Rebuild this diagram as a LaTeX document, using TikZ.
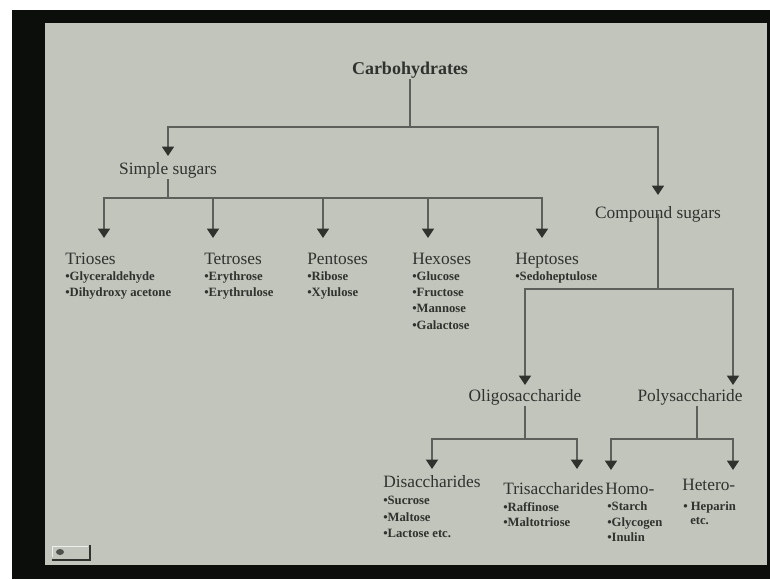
\documentclass[tikz,border=0pt]{standalone}
\usepackage{fontspec}
\setmainfont{Liberation Serif}
\usetikzlibrary{arrows.meta}
\definecolor{slidebg}{RGB}{193,197,187}
\definecolor{ink}{RGB}{48,50,46}
\definecolor{wirec}{RGB}{92,95,90}
\definecolor{framec}{RGB}{12,14,12}
\begin{document}
\begin{tikzpicture}[x=0.75pt,y=-0.75pt,
  wire/.style={draw=wirec,line width=1.1pt},
  arr/.style={wire,-{Triangle[width=9pt,length=7pt,color=ink]}},
  head/.style={font=\fontsize{13}{15}\selectfont,text=ink,inner sep=1pt},
  lhead/.style={head,anchor=base west,inner sep=0pt},
  itm/.style={font=\fontsize{9.5}{11}\selectfont\bfseries,text=ink,anchor=base west,inner sep=0pt}]
\useasboundingbox (0,0) rectangle (770,579);
\fill[white] (0,0) rectangle (770,579);
\fill[framec] (12,10) rectangle (770,579);
\fill[slidebg] (45,23) rectangle (767,565);
% icon bottom left
\draw[ink,line width=1.4pt] (52,560) -- (90,560) -- (90,545);
\fill[ink!85] (60,552) ellipse (4 and 3);
\draw[white!70!slidebg,line width=0.6pt] (52,557) -- (52,546) -- (88,546);

% nodes
\node[head,font=\fontsize{13.5}{15}\selectfont\bfseries,anchor=base] (carb) at (410,74) {Carbohydrates};
\node[head,anchor=base] (simple) at (168,174) {Simple sugars};
\node[head,anchor=base] (compound) at (658,218) {Compound sugars};

\node[lhead] (tri) at (65,264) {Trioses};
\node[itm] (tri1) at (65,280) {•Glyceraldehyde};
\node[itm] (tri2) at (65,296) {•Dihydroxy acetone};

\node[lhead] (tet) at (204,264) {Tetroses};
\node[itm] (tet1) at (204,280) {•Erythrose};
\node[itm] (tet2) at (204,296) {•Erythrulose};

\node[lhead] (pen) at (307,264) {Pentoses};
\node[itm] (pen1) at (307,280) {•Ribose};
\node[itm] (pen2) at (307,296) {•Xylulose};

\node[lhead] (hex) at (412,264) {Hexoses};
\node[itm] (hex1) at (412,280) {•Glucose};
\node[itm] (hex2) at (412,296) {•Fructose};
\node[itm] (hex3) at (412,312) {•Mannose};
\node[itm] (hex4) at (412,329) {•Galactose};

\node[lhead] (hep) at (515,264) {Heptoses};
\node[itm] (hep1) at (515,280) {•Sedoheptulose};

\node[head,anchor=base] (oligo) at (525,401) {Oligosaccharide};
\node[head,anchor=base] (poly) at (690,401) {Polysaccharide};

\node[lhead] (disa) at (383,487) {Disaccharides};
\node[itm] (disa1) at (383,504) {•Sucrose};
\node[itm] (disa2) at (383,521) {•Maltose};
\node[itm] (disa3) at (383,537) {•Lactose etc.};

\node[lhead] (tris) at (503,494) {Trisaccharides};
\node[itm] (tris1) at (503,511) {•Raffinose};
\node[itm] (tris2) at (503,526) {•Maltotriose};

\node[lhead] (homo) at (605,494) {Homo-};
\node[itm] (homo1) at (607,510) {•Starch};
\node[itm] (homo2) at (607,526) {•Glycogen};
\node[itm] (homo3) at (607,541) {•Inulin};

\node[lhead] (het) at (682,490) {Hetero-};
\node[itm] (het1) at (683,510) {• Heparin};
\node[itm] (het2) at (690,524) {etc.};

% junctions and arrow tips
\coordinate (j0) at (410,127);
\coordinate (simple-in) at (168,156);
\coordinate (compound-in) at (658,195);
\coordinate (j1) at (168,198);
\coordinate (tri-in) at (104,238);
\coordinate (tet-in) at (213,238);
\coordinate (pen-in) at (323,238);
\coordinate (hex-in) at (428,238);
\coordinate (hep-in) at (542,238);
\coordinate (j2) at (658,289);
\coordinate (oligo-in) at (525,385);
\coordinate (poly-in) at (733,385);
\coordinate (j3) at (525,439);
\coordinate (disa-in) at (432,469);
\coordinate (tris-in) at (577,469);
\coordinate (j4) at (697,439);
\coordinate (homo-in) at (611,470);
\coordinate (het-in) at (733,470);

% connectors
\draw[wire] (carb.south) -- (j0);
\draw[arr] (j0) -| (simple-in);
\draw[arr] (j0) -| (compound-in);
\draw[wire] (simple.south) -- (j1);
\foreach \t in {tri,tet,pen,hex,hep} \draw[arr] (j1) -| (\t-in);
\draw[wire] (compound.center -| j2) -- (j2);
\draw[arr] (j2) -| (oligo-in);
\draw[arr] (j2) -| (poly-in);
\draw[wire] (oligo.south) -- (j3);
\draw[arr] (j3) -| (disa-in);
\draw[arr] (j3) -| (tris-in);
\draw[wire] (poly.south -| j4) -- (j4);
\draw[arr] (j4) -| (homo-in);
\draw[arr] (j4) -| (het-in);
\end{tikzpicture}
\end{document}
